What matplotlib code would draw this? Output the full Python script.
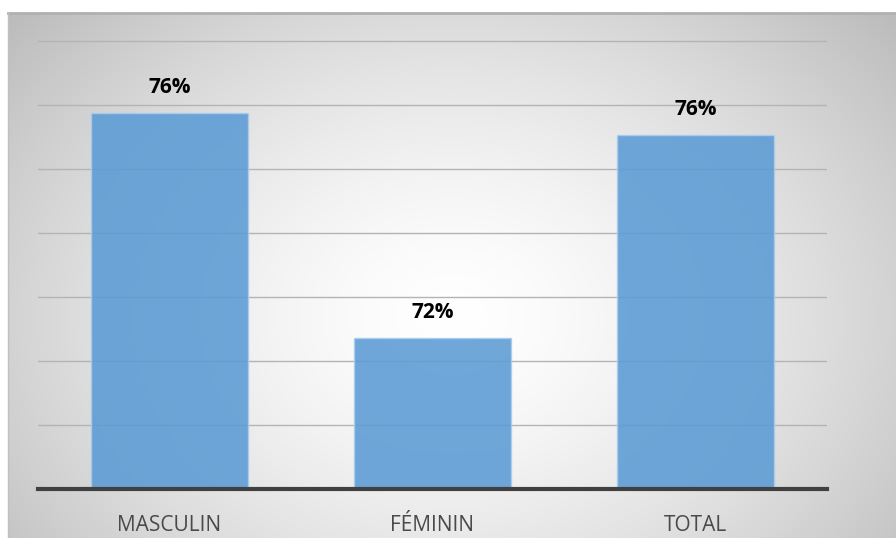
import numpy as np
import matplotlib.pyplot as plt

categories = ["MASCULIN", "FÉMININ", "TOTAL"]
values = [75.87, 72.36, 75.53]
y_min, y_max = 70, 77
grid_ticks = [71, 72, 73, 74, 75, 76, 77]

W, H = 896, 538
fig = plt.figure(figsize=(W / 100, H / 100), dpi=100)
fig.patch.set_facecolor("white")

# chart area with radial grey gradient
bg = fig.add_axes([8 / W, 0, (W - 8) / W, (H - 13) / H])
bg.set_axis_off()
yy, xx = np.mgrid[0:1:300j, 0:1:500j]
r = np.sqrt(((xx - 0.5) / 0.72) ** 2 + ((yy - 0.42) / 0.95) ** 2)
r = np.clip(r, 0, 1)
shade = 1.0 - 0.30 * r ** 1.5
img = np.dstack([shade, shade, shade])
bg.imshow(img, extent=[0, 1, 0, 1], aspect="auto", origin="lower")
bg.set_xlim(0, 1)
bg.set_ylim(0, 1)
bg.plot([0, 1], [1, 1], color="#b0b0b0", lw=2, transform=bg.transAxes, clip_on=False)
bg.plot([0, 0], [0, 1], color="#c0c0c0", lw=1, transform=bg.transAxes, clip_on=False)

# plot area
px_per_unit = (489 - 41) / 7
top_px = 489 - (77.3 - y_min) * px_per_unit
ax = fig.add_axes([38 / W, (H - 489) / H, (827 - 38) / W, (489 - top_px) / H])
ax.patch.set_alpha(0)
x = np.arange(len(categories))
ax.set_xlim(-0.5, len(categories) - 0.5)
ax.set_ylim(y_min, 77.3)

for g in grid_ticks:
    ax.axhline(g, color="#b4b4b4", lw=1.0, zorder=1)

bars = ax.bar(x, [v - y_min for v in values], bottom=y_min, width=0.6,
              color="#5B9BD5", alpha=0.88, edgecolor="#a9cdee", linewidth=1.0, zorder=2)

for xi, v in zip(x, values):
    ax.text(xi, v + 0.24, f"{v:.0f}%", ha="center", va="bottom",
            fontsize=15, fontweight="bold", family="Open Sans", color="black")

ax.axhline(y_min, color="#404040", lw=3, zorder=3, clip_on=False)
for s in ax.spines.values():
    s.set_visible(False)
ax.set_yticks([])
ax.set_xticks(x)
ax.set_xticklabels(categories, fontsize=15, family="Open Sans", color="#4a4a4a")
ax.tick_params(axis="x", length=0, pad=19)

fig.savefig("out.png", dpi=100)
